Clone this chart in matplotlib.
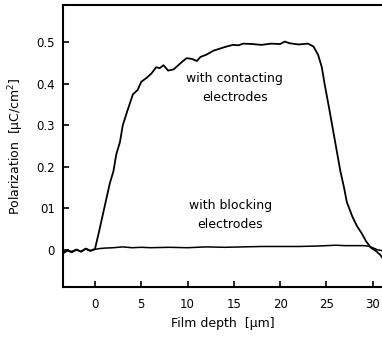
import matplotlib
matplotlib.use("Agg")
import matplotlib.pyplot as plt

# contacting electrodes curve
x_contact = [-3.4, -3, -2.5, -2, -1.5, -1, -0.5, 0,
             0.4, 0.9, 1.3, 1.6, 2.0, 2.3, 2.7, 3.0,
             3.5, 4.1, 4.6, 5.0, 5.6, 6.1, 6.6, 7.0,
             7.4, 7.9, 8.5, 9.0, 9.5, 9.9, 10.5, 11.0,
             11.4, 12.0, 12.8, 13.5, 14.2, 14.9, 15.5, 16.0,
             17, 18, 19, 20, 20.5, 21, 22, 23,
             23.6, 24.1, 24.5, 24.8, 25.3, 25.7, 26.1, 26.5,
             26.9, 27.2, 27.8, 28.3, 28.8, 29.3, 29.8, 30.3,
             30.8, 31.0]
y_contact = [-0.008, -0.002, -0.006, 0.0, -0.004, 0.003, -0.002, 0.002,
             0.04, 0.09, 0.13, 0.16, 0.19, 0.23, 0.26, 0.30,
             0.335, 0.375, 0.385, 0.405, 0.415, 0.425, 0.44, 0.438,
             0.445, 0.432, 0.435, 0.445, 0.455, 0.462, 0.46, 0.455,
             0.465, 0.47, 0.48, 0.485, 0.49, 0.494, 0.493, 0.497,
             0.496, 0.494, 0.497, 0.496, 0.502, 0.498, 0.495, 0.497,
             0.49, 0.47, 0.44, 0.40, 0.34, 0.29, 0.24, 0.19,
             0.15, 0.115, 0.08, 0.057, 0.04, 0.02, 0.005, -0.002,
             -0.012, -0.018]

# blocking electrodes curve
x_block = [-3.4, -3, -2.5, -2, -1.5, -1, -0.5, 0,
           0.5, 1, 2, 3, 4, 5, 6, 8, 10, 12, 14, 16, 18, 20,
           22, 24, 25, 26, 27, 28, 29, 29.5, 30, 30.5, 31]
y_block = [-0.006, -0.001, -0.004, 0.001, -0.005, 0.002, -0.003, 0.001,
           0.003, 0.004, 0.005, 0.007, 0.005, 0.006, 0.005, 0.006, 0.005,
           0.007, 0.006, 0.007, 0.008, 0.008, 0.008, 0.009, 0.01, 0.011,
           0.01, 0.01, 0.01, 0.009, 0.005, 0.0, -0.002]

x_ticks = [0, 5, 10, 15, 20, 25, 30]
y_ticks = [0, 0.1, 0.2, 0.3, 0.4, 0.5]
y_ticklabels = ["0", "01", "0.2", "0.3", "0.4", "0.5"]

fig = plt.figure(figsize=(3.82, 3.37), dpi=100)
ax = fig.add_axes([0.165, 0.148, 0.835, 0.837])

ax.plot(x_contact, y_contact, color="black", lw=1.3)
ax.plot(x_block, y_block, color="black", lw=1.1)

ax.set_xlim(-3.45, 31.0)
ax.set_ylim(-0.09, 0.59)
ax.set_xticks(x_ticks)
ax.set_yticks(y_ticks)
ax.set_yticklabels(y_ticklabels)
ax.tick_params(direction="in", length=4, width=1.2, labelsize=8.5)
ax.tick_params(axis="x", pad=8)
ax.tick_params(axis="y", pad=6)
ax.spines["right"].set_visible(False)
for s in ["left", "bottom", "top"]:
    ax.spines[s].set_linewidth(1.5)

ax.set_xlabel("Film depth  [\u03bcm]", fontsize=9, labelpad=4)
ax.set_ylabel("Polarization  [\u03bcC/cm$^2$]", fontsize=9, labelpad=7)

ax.text(15.1, 0.39, "with contacting\nelectrodes", ha="center", va="center",
        fontsize=9, linespacing=1.55)
ax.text(14.6, 0.084, "with blocking\nelectrodes", ha="center", va="center",
        fontsize=9, linespacing=1.55)

fig.savefig("out.png", dpi=100)
